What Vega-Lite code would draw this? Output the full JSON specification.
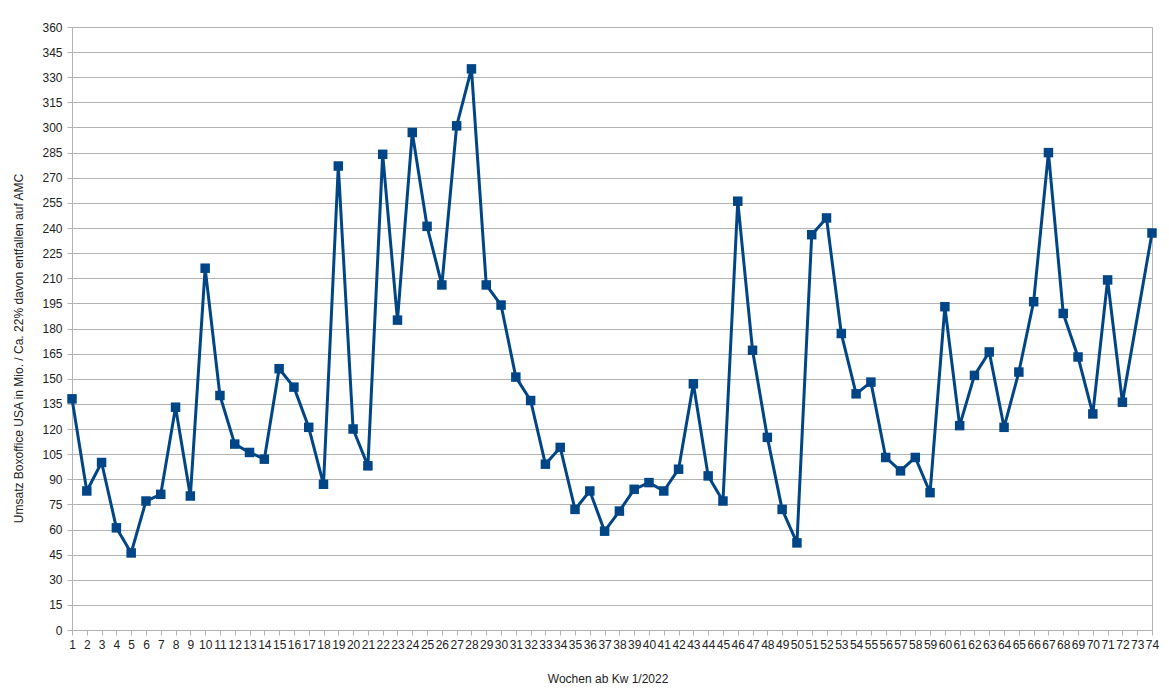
{
  "$schema": "https://vega.github.io/schema/vega-lite/v6.json",
  "autosize": "none",
  "padding": {"left": 72, "top": 27, "right": 17, "bottom": 64},
  "width": 1080,
  "height": 603,
  "background": "white",
  "config": {
    "view": {"stroke": "#b3b3b3", "strokeWidth": 1},
    "font": "Liberation Sans",
    "axis": {
      "labelFont": "Liberation Sans",
      "titleFont": "Liberation Sans",
      "labelFontSize": 12,
      "titleFontSize": 12,
      "titleFontWeight": "normal",
      "labelColor": "#222222",
      "titleColor": "#222222",
      "domainColor": "#b3b3b3",
      "tickColor": "#b3b3b3",
      "gridColor": "#b3b3b3",
      "gridWidth": 1,
      "tickSize": 5
    }
  },
  "data": {
    "values": [
      {"woche": 1, "umsatz": 138}, {"woche": 2, "umsatz": 83}, {"woche": 3, "umsatz": 100},
      {"woche": 4, "umsatz": 61}, {"woche": 5, "umsatz": 46}, {"woche": 6, "umsatz": 77},
      {"woche": 7, "umsatz": 81}, {"woche": 8, "umsatz": 133}, {"woche": 9, "umsatz": 80},
      {"woche": 10, "umsatz": 216}, {"woche": 11, "umsatz": 140}, {"woche": 12, "umsatz": 111},
      {"woche": 13, "umsatz": 106}, {"woche": 14, "umsatz": 102}, {"woche": 15, "umsatz": 156},
      {"woche": 16, "umsatz": 145}, {"woche": 17, "umsatz": 121}, {"woche": 18, "umsatz": 87},
      {"woche": 19, "umsatz": 277}, {"woche": 20, "umsatz": 120}, {"woche": 21, "umsatz": 98},
      {"woche": 22, "umsatz": 284}, {"woche": 23, "umsatz": 185}, {"woche": 24, "umsatz": 297},
      {"woche": 25, "umsatz": 241}, {"woche": 26, "umsatz": 206}, {"woche": 27, "umsatz": 301},
      {"woche": 28, "umsatz": 335}, {"woche": 29, "umsatz": 206}, {"woche": 30, "umsatz": 194},
      {"woche": 31, "umsatz": 151}, {"woche": 32, "umsatz": 137}, {"woche": 33, "umsatz": 99},
      {"woche": 34, "umsatz": 109}, {"woche": 35, "umsatz": 72}, {"woche": 36, "umsatz": 83},
      {"woche": 37, "umsatz": 59}, {"woche": 38, "umsatz": 71}, {"woche": 39, "umsatz": 84},
      {"woche": 40, "umsatz": 88}, {"woche": 41, "umsatz": 83}, {"woche": 42, "umsatz": 96},
      {"woche": 43, "umsatz": 147}, {"woche": 44, "umsatz": 92}, {"woche": 45, "umsatz": 77},
      {"woche": 46, "umsatz": 256}, {"woche": 47, "umsatz": 167}, {"woche": 48, "umsatz": 115},
      {"woche": 49, "umsatz": 72}, {"woche": 50, "umsatz": 52}, {"woche": 51, "umsatz": 236},
      {"woche": 52, "umsatz": 246}, {"woche": 53, "umsatz": 177}, {"woche": 54, "umsatz": 141},
      {"woche": 55, "umsatz": 148}, {"woche": 56, "umsatz": 103}, {"woche": 57, "umsatz": 95},
      {"woche": 58, "umsatz": 103}, {"woche": 59, "umsatz": 82}, {"woche": 60, "umsatz": 193},
      {"woche": 61, "umsatz": 122}, {"woche": 62, "umsatz": 152}, {"woche": 63, "umsatz": 166},
      {"woche": 64, "umsatz": 121}, {"woche": 65, "umsatz": 154}, {"woche": 66, "umsatz": 196},
      {"woche": 67, "umsatz": 285}, {"woche": 68, "umsatz": 189}, {"woche": 69, "umsatz": 163},
      {"woche": 70, "umsatz": 129}, {"woche": 71, "umsatz": 209}, {"woche": 72, "umsatz": 136},
      {"woche": 74, "umsatz": 237}
    ]
  },
  "mark": {
    "type": "line",
    "color": "#004586",
    "strokeWidth": 3,
    "strokeJoin": "round",
    "point": {"filled": true, "shape": "square", "size": 90, "color": "#004586", "opacity": 1}
  },
  "encoding": {
    "x": {
      "field": "woche",
      "type": "quantitative",
      "scale": {"domain": [1, 74], "nice": false, "zero": false},
      "axis": {
        "title": "Wochen ab Kw 1/2022",
        "values": [1,2,3,4,5,6,7,8,9,10,11,12,13,14,15,16,17,18,19,20,21,22,23,24,25,26,27,28,29,30,31,32,33,34,35,36,37,38,39,40,41,42,43,44,45,46,47,48,49,50,51,52,53,54,55,56,57,58,59,60,61,62,63,64,65,66,67,68,69,70,71,72,73,74],
        "format": "d",
        "labelOverlap": false,
        "labelFlush": false,
        "labelBound": false,
        "labelPadding": 4,
        "grid": false,
        "titleX": 535.6,
        "titleY": 48,
        "titleBaseline": "middle",
        "titleAlign": "center"
      }
    },
    "y": {
      "field": "umsatz",
      "type": "quantitative",
      "scale": {"domain": [0, 360], "nice": false},
      "axis": {
        "title": "Umsatz Boxoffice USA in Mio. / Ca. 22% davon entfallen auf AMC",
        "values": [0,15,30,45,60,75,90,105,120,135,150,165,180,195,210,225,240,255,270,285,300,315,330,345,360],
        "labelPadding": 5,
        "grid": true,
        "titleX": -54,
        "titleY": 321,
        "titleAngle": -90,
        "titleAlign": "center",
        "titleBaseline": "middle"
      }
    }
  }
}
